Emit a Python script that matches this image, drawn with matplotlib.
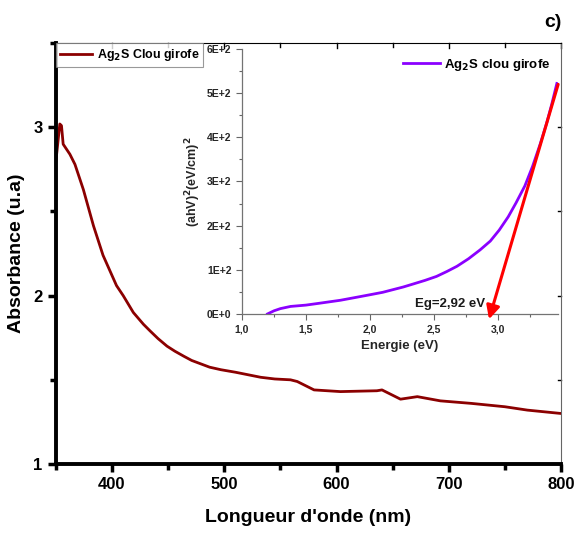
import matplotlib
matplotlib.use("Agg")
import matplotlib.pyplot as plt
from matplotlib.ticker import MultipleLocator, FuncFormatter

plt.rcParams['font.family'] = ['Liberation Sans', 'DejaVu Sans']
plt.rcParams['font.weight'] = 'bold'

# spectre UV-Vis
wavelength = [350, 351, 353.5, 355, 356.5, 362.5, 367, 374.5, 383.5, 392, 404, 410,
              419, 428, 434, 441, 449, 456, 464, 471, 479, 487, 497, 510, 532.5,
              545, 559, 565, 580, 603.5, 636, 640.5, 657, 672, 692.5, 720, 750, 770, 800]
absorbance = [2.80, 2.86, 3.02, 3.01, 2.90, 2.84, 2.78, 2.63, 2.415, 2.24, 2.06, 2.00,
              1.90, 1.83, 1.79, 1.745, 1.70, 1.67, 1.64, 1.615, 1.595, 1.575, 1.56, 1.545,
              1.515, 1.505, 1.50, 1.49, 1.44, 1.43, 1.435, 1.44, 1.385, 1.40, 1.375,
              1.36, 1.34, 1.32, 1.30]

# trace de Tauc
energy = [1.20, 1.25, 1.30, 1.38, 1.50, 1.60, 1.77, 1.90, 2.01, 2.10, 2.18, 2.26,
          2.34, 2.43, 2.52, 2.60, 2.68, 2.77, 2.86, 2.94, 3.01, 3.08, 3.14, 3.21,
          3.27, 3.33, 3.38, 3.42, 3.46]
tauc = [0, 7, 12, 17, 20, 24, 31, 38, 44, 49, 55, 61, 68, 76, 85, 96, 108, 125, 145,
        165, 190, 220, 251, 290, 334, 385, 432, 475, 522]

fig = plt.figure(figsize=(5.76, 5.33), dpi=100)
ax = fig.add_axes([0.097, 0.1295, 0.877, 0.7895])
ax.plot(wavelength, absorbance, color='#8b0000', lw=2, label=r'Ag$_\mathbf{2}$S Clou girofe')
ax.set_xlim(350, 800)
ax.set_ylim(1, 3.5)
ax.xaxis.set_major_locator(MultipleLocator(100))
ax.xaxis.set_minor_locator(MultipleLocator(50))
ax.yaxis.set_major_locator(MultipleLocator(1))
ax.yaxis.set_minor_locator(MultipleLocator(0.5))
ax.tick_params(which='both', direction='out', width=2.5, labelsize=12, top=False, right=False)
ax.tick_params(which='major', length=6)
ax.tick_params(which='minor', length=4)
for lbl in ax.get_xticklabels() + ax.get_yticklabels():
    lbl.set_fontweight('bold')
ax.spines['left'].set_linewidth(2.8)
ax.spines['bottom'].set_linewidth(2.8)
ax.spines['top'].set_linewidth(0.8)
ax.spines['right'].set_linewidth(0.8)
ax.spines['right'].set_color('0.4')
# ticks du haut et de droite vers l'interieur
for x in range(400, 801, 50):
    ax.plot([x, x], [3.5, 3.5 - (0.03 if x % 100 == 0 else 0.02)], color='k', lw=1, clip_on=False)
for y in [1.5, 2, 2.5, 3]:
    ax.plot([800, 797], [y, y], color='k', lw=1, clip_on=False)
ax.set_xlabel("Longueur d'onde (nm)", fontsize=14, fontweight='bold', labelpad=12)
ax.set_ylabel('Absorbance (u.a)', fontsize=14, fontweight='bold', labelpad=6)
leg = ax.legend(loc='upper left', fontsize=9, frameon=True, fancybox=False,
                borderaxespad=0, handlelength=2.6, handletextpad=0.4, borderpad=0.3)
leg.get_frame().set_edgecolor('0.5')
leg.get_frame().set_linewidth(0.8)
for t in leg.get_texts():
    t.set_fontweight('bold')
fig.text(0.975, 0.958, 'c)', fontsize=14, fontweight='bold', ha='right', va='center')

# inset
ins = fig.add_axes([0.42, 0.411, 0.549, 0.497])
ins.plot(energy, tauc, color='#8b00ff', lw=2, label=r'Ag$_\mathbf{2}$S clou girofe')
ins.set_xlim(1.0, 3.47)
ins.set_ylim(0, 600)
ins.xaxis.set_major_locator(MultipleLocator(0.5))
ins.xaxis.set_minor_locator(MultipleLocator(0.25))
ins.yaxis.set_major_locator(MultipleLocator(100))
ins.yaxis.set_minor_locator(MultipleLocator(50))
ins.xaxis.set_major_formatter(FuncFormatter(lambda v, p: f'{v:.1f}'.replace('.', ',')))
ins.yaxis.set_major_formatter(FuncFormatter(
    lambda v, p: '0E+0' if v == 0 else f'{int(round(v / 100))}E+2'))
ins.tick_params(which='both', direction='out', color='0.4', width=0.8, labelsize=7.5,
                labelcolor='0.15')
ins.tick_params(which='major', length=4)
ins.tick_params(which='minor', length=2)
for lbl in ins.get_xticklabels() + ins.get_yticklabels():
    lbl.set_fontweight('bold')
for s in ['top', 'right']:
    ins.spines[s].set_visible(False)
for s in ['left', 'bottom']:
    ins.spines[s].set_color('0.45')
    ins.spines[s].set_linewidth(0.9)
ins.patch.set_alpha(0)
ins.set_xlabel('Energie (eV)', fontsize=9.5, fontweight='bold', color='0.15')
ins.set_ylabel(r'(ahV)$^\mathbf{2}$(eV/cm)$^\mathbf{2}$', fontsize=9, fontweight='bold',
               color='0.15', labelpad=3)
lg2 = ins.legend(loc='upper right', fontsize=9.5, frameon=False, handlelength=2.8,
                 handletextpad=0.3, borderaxespad=0.2)
for t in lg2.get_texts():
    t.set_fontweight('bold')
ins.annotate('', xy=(2.93, -12), xytext=(3.47, 520),
             arrowprops=dict(arrowstyle='-|>', color='red', lw=2.2, mutation_scale=20,
                             shrinkA=0, shrinkB=0),
             annotation_clip=False)
ins.text(2.9, 22, 'Eg=2,92 eV', fontsize=9.5, fontweight='bold', ha='right', va='center',
         color='0.1')

fig.savefig('out.png', dpi=100)
